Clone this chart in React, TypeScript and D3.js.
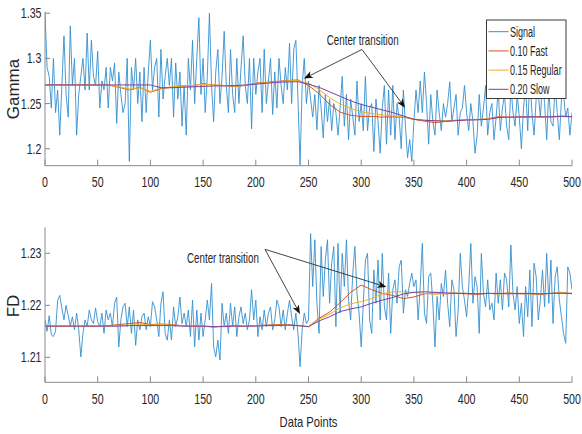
import React from "react";
import * as d3 from "d3";

// Sample positions: raw signal every 2 points, filtered curves every 10 points
const SIGNAL_STEP = 2;
const FILTER_STEP = 10;

const xTicks = [0, 50, 100, 150, 200, 250, 300, 350, 400, 450, 500];
const gammaTicks = [1.2, 1.25, 1.3, 1.35];
const fdTicks = [1.21, 1.22, 1.23];

const seriesNames = ["Signal", "0.10 Fast", "0.15 Regular", "0.20 Slow"];
const seriesColors = ["#3490cf", "#d95319", "#edb120", "#7e3fa8"];

// Gamma signal (points 0..500, every 2nd point)
const gammaSignal = [
  1.35, 1.29, 1.28, 1.245, 1.30, 1.24, 1.265, 1.215, 1.27, 1.325,
  1.26, 1.235, 1.336, 1.27, 1.30, 1.215, 1.26, 1.28, 1.30, 1.265,
  1.328, 1.265, 1.32, 1.28, 1.27, 1.308, 1.245, 1.275, 1.265, 1.29,
  1.245, 1.29, 1.275, 1.295, 1.228, 1.285, 1.26, 1.24, 1.25, 1.30,
  1.186, 1.29, 1.265, 1.30, 1.25, 1.285, 1.23, 1.29, 1.24, 1.285,
  1.32, 1.265, 1.29, 1.30, 1.235, 1.31, 1.255, 1.28, 1.30, 1.27,
  1.30, 1.235, 1.295, 1.255, 1.285, 1.225, 1.27, 1.215, 1.30, 1.265,
  1.32, 1.25, 1.30, 1.345, 1.26, 1.30, 1.24, 1.28, 1.35, 1.27,
  1.23, 1.285, 1.31, 1.25, 1.28, 1.33, 1.27, 1.24, 1.31, 1.26,
  1.24, 1.30, 1.25, 1.29, 1.325, 1.27, 1.25, 1.30, 1.222, 1.30,
  1.26, 1.285, 1.30, 1.24, 1.31, 1.25, 1.275, 1.30, 1.238, 1.285,
  1.245, 1.30, 1.27, 1.25, 1.29, 1.265, 1.317, 1.25, 1.31, 1.32,
  1.255, 1.182, 1.27, 1.30, 1.25, 1.275, 1.255, 1.235, 1.26, 1.221,
  1.27, 1.245, 1.212, 1.26, 1.23, 1.255, 1.22, 1.25, 1.24, 1.215,
  1.245, 1.28, 1.225, 1.26, 1.21, 1.255, 1.235, 1.215, 1.275, 1.23,
  1.25, 1.22, 1.28, 1.22, 1.245, 1.25, 1.197, 1.255, 1.23, 1.195,
  1.245, 1.27, 1.205, 1.265, 1.215, 1.27, 1.21, 1.25, 1.235, 1.20,
  1.265, 1.225, 1.19, 1.21, 1.186, 1.23, 1.265, 1.24, 1.275, 1.24,
  1.285, 1.25, 1.205, 1.26, 1.23, 1.215, 1.265, 1.24, 1.22, 1.25,
  1.235, 1.25, 1.274, 1.23, 1.245, 1.26, 1.215, 1.24, 1.245, 1.27,
  1.24, 1.22, 1.25, 1.23, 1.195, 1.215, 1.26, 1.225, 1.245, 1.27,
  1.215, 1.24, 1.25, 1.21, 1.235, 1.265, 1.22, 1.245, 1.26, 1.225,
  1.21, 1.27, 1.24, 1.225, 1.26, 1.235, 1.20, 1.245, 1.27, 1.22,
  1.28, 1.24, 1.215, 1.255, 1.26, 1.235, 1.275, 1.25, 1.21, 1.265,
  1.23, 1.225, 1.27, 1.24, 1.21, 1.255, 1.26, 1.235, 1.245, 1.215,
  1.24,
];

// Gamma filtered estimates (points 0..500, every 10th point)
const gammaFast = [
  1.2706, 1.2706, 1.2706, 1.2706, 1.2706, 1.2706, 1.2706, 1.268, 1.2652, 1.268,
  1.2625, 1.2665, 1.268, 1.2695, 1.2695, 1.272, 1.2705, 1.27, 1.269, 1.27,
  1.2725, 1.2735, 1.2745, 1.2755, 1.2762, 1.27, 1.261, 1.249, 1.2405, 1.237,
  1.2357, 1.2358, 1.235, 1.2352, 1.235, 1.2325, 1.2305, 1.229, 1.2302, 1.2315,
  1.232, 1.2322, 1.233, 1.2355, 1.2348, 1.235, 1.2345, 1.2355, 1.235, 1.2362,
  1.2355,
];
const gammaRegular = [
  1.2706, 1.2706, 1.2706, 1.2706, 1.2706, 1.2706, 1.2706, 1.2685, 1.266, 1.2675,
  1.2635, 1.267, 1.2685, 1.2695, 1.27, 1.2715, 1.2705, 1.27, 1.2695, 1.27,
  1.272, 1.273, 1.274, 1.2752, 1.2755, 1.2725, 1.2655, 1.2565, 1.2495, 1.2445,
  1.241, 1.239, 1.2375, 1.2365, 1.2355, 1.233, 1.2315, 1.231, 1.231, 1.2315,
  1.232, 1.2325, 1.233, 1.2345, 1.235, 1.2352, 1.235, 1.2348, 1.2352, 1.2355,
  1.2352,
];
const gammaSlow = [
  1.2706, 1.2706, 1.2706, 1.2706, 1.2706, 1.2706, 1.2706, 1.2706, 1.2706, 1.2706,
  1.2706, 1.2675, 1.2675, 1.268, 1.2685, 1.269, 1.2695, 1.2695, 1.27, 1.2705,
  1.2715, 1.2725, 1.2735, 1.274, 1.2742, 1.2715, 1.268, 1.263, 1.258, 1.253,
  1.249, 1.246, 1.243, 1.24, 1.2362, 1.2325, 1.2315, 1.231, 1.2305, 1.231,
  1.2318, 1.232, 1.2325, 1.2345, 1.235, 1.2352, 1.2355, 1.2352, 1.2355, 1.2358,
  1.2355,
];

// FD signal (points 0..500, every 2nd point)
const fdSignal = [
  1.2172, 1.215, 1.218, 1.2143, 1.214, 1.215, 1.221, 1.2219, 1.2195, 1.2172,
  1.22, 1.218, 1.216, 1.2178, 1.2153, 1.2185, 1.2153, 1.2101, 1.2146, 1.2172,
  1.2159, 1.2191, 1.2172, 1.2165, 1.2195, 1.2168, 1.2159, 1.2185, 1.2146, 1.2191,
  1.2172, 1.2185, 1.2159, 1.2204, 1.2216, 1.212, 1.2172, 1.2197, 1.2204, 1.2159,
  1.2197, 1.2146, 1.2191, 1.2123, 1.2172, 1.2153, 1.2178, 1.2185, 1.2153, 1.2178,
  1.2159, 1.2207, 1.2197, 1.2172, 1.214, 1.2204, 1.2226, 1.2146, 1.2133, 1.2172,
  1.2133, 1.2197, 1.2159, 1.2178, 1.2216, 1.2165, 1.2185, 1.2159, 1.2191, 1.214,
  1.221, 1.212, 1.2191, 1.2133, 1.2185, 1.214, 1.2172, 1.221, 1.2172, 1.2242,
  1.212, 1.2101, 1.2133, 1.2095, 1.2204, 1.2159, 1.2185, 1.2146, 1.2204, 1.2159,
  1.2197, 1.214, 1.2178, 1.2197, 1.2165, 1.2185, 1.2153, 1.2172, 1.223, 1.2172,
  1.221, 1.214, 1.2178, 1.2153, 1.2191, 1.2159, 1.2185, 1.2197, 1.2153, 1.2172,
  1.221, 1.2197, 1.2159, 1.2191, 1.2153, 1.2185, 1.221, 1.2178, 1.2153, 1.2185,
  1.2146, 1.2082, 1.2153, 1.2185, 1.2165, 1.2172, 1.2338, 1.2236, 1.2326, 1.2204,
  1.2146, 1.2313, 1.2217, 1.2287, 1.2326, 1.2204, 1.2281, 1.2313, 1.2159, 1.2319,
  1.2185, 1.23, 1.2236, 1.2326, 1.221, 1.2172, 1.2262, 1.2313, 1.2223, 1.2185,
  1.212, 1.2204, 1.2287, 1.23, 1.2172, 1.2146, 1.2268, 1.2204, 1.2287, 1.2172,
  1.23, 1.2197, 1.2172, 1.2262, 1.2146, 1.223, 1.2249, 1.2204, 1.2274, 1.2287,
  1.2185, 1.223, 1.2217, 1.2242, 1.2262, 1.2236, 1.2249, 1.2172, 1.2236, 1.2319,
  1.2185, 1.2165, 1.2255, 1.2262, 1.2204, 1.212, 1.2217, 1.2172, 1.2242, 1.2217,
  1.2268, 1.2204, 1.2159, 1.2249, 1.223, 1.214, 1.2191, 1.23, 1.2236, 1.221,
  1.2178, 1.2236, 1.2319, 1.2204, 1.2255, 1.2236, 1.2146, 1.23, 1.2223, 1.2197,
  1.2249, 1.2191, 1.2204, 1.2172, 1.2262, 1.2204, 1.2249, 1.2191, 1.2262, 1.2249,
  1.2197, 1.2316, 1.2223, 1.2191, 1.2236, 1.2165, 1.2204, 1.214, 1.2236, 1.2178,
  1.2268, 1.2159, 1.2281, 1.2255, 1.2172, 1.221, 1.2268, 1.2197, 1.23, 1.2204,
  1.2287, 1.2165, 1.2255, 1.2274, 1.221, 1.2178, 1.2146, 1.2127, 1.2274, 1.2262,
  1.223,
];

// FD filtered estimates (points 0..500, every 10th point)
const fdFast = [
  1.216, 1.216, 1.216, 1.216, 1.216, 1.216, 1.2161, 1.2163, 1.2165, 1.2167,
  1.2163, 1.2164, 1.2163, 1.2161, 1.216, 1.216, 1.2158, 1.216, 1.2161, 1.216,
  1.2161, 1.2162, 1.2163, 1.2163, 1.2161, 1.2159, 1.2175, 1.2187, 1.2205, 1.2225,
  1.2239, 1.223, 1.2223, 1.2219, 1.2213, 1.2216, 1.2222, 1.2224, 1.2222, 1.2223,
  1.2222, 1.2221, 1.2223, 1.2222, 1.2224, 1.2222, 1.2222, 1.2221, 1.2223, 1.2225,
  1.2222,
];
const fdRegular = [
  1.216, 1.216, 1.216, 1.216, 1.216, 1.216, 1.216, 1.2161, 1.2162, 1.2164,
  1.2162, 1.2163, 1.2162, 1.2161, 1.216, 1.216, 1.2159, 1.216, 1.216, 1.216,
  1.2161, 1.2161, 1.2162, 1.2162, 1.2161, 1.2159, 1.2173, 1.2183, 1.2195, 1.2203,
  1.2207, 1.2213, 1.2222, 1.2226, 1.2226, 1.2225, 1.2223, 1.2221, 1.2223, 1.2224,
  1.2223, 1.2222, 1.2223, 1.2222, 1.2223, 1.2223, 1.2222, 1.2222, 1.2223, 1.2224,
  1.2223,
];
const fdSlow = [
  1.216, 1.216, 1.216, 1.216, 1.216, 1.216, 1.216, 1.216, 1.2161, 1.2161,
  1.2161, 1.2161, 1.2161, 1.216, 1.216, 1.216, 1.2159, 1.2159, 1.216, 1.216,
  1.216, 1.2161, 1.2161, 1.2162, 1.2161, 1.2159, 1.217, 1.2178, 1.2188, 1.2193,
  1.2197, 1.2204, 1.221, 1.2215, 1.2222, 1.2225, 1.2226, 1.2225, 1.2224, 1.2223,
  1.2223, 1.2222, 1.2223, 1.2223, 1.2222, 1.2223, 1.2223, 1.2222, 1.2223, 1.2223,
  1.2223,
];

// Annotation anchors in data units: [x, y]
const gammaNote = { text: [267.3, 1.3148], from: [300.8, 1.3099], to: [[245.7, 1.2777], [341.6, 1.2454]] };
const fdNote = { text: [134.7, 1.22814], from: [208.7, 1.23077], to: [[241.9, 1.21833], [324.0, 1.22352]] };

const FONT = "'Liberation Sans', Arial, Helvetica, sans-serif";
const AXIS = "#8a8a8a";
const INK = "#262626";

const x = d3.scaleLinear().domain([0, 500]).range([45, 572]);
const yGamma = d3.scaleLinear().domain([1.1812, 1.3517]).range([165.7, 11.7]);
const yFd = d3.scaleLinear().domain([1.2052, 1.235]).range([382.3, 227.3]);

type Scale = d3.ScaleLinear<number, number>;

function NarrowText({ x, y, sx, size, anchor = "start", children }: any) {
  return (
    <text
      transform={`translate(${x},${y}) scale(${sx},1)`}
      textAnchor={anchor}
      fontSize={size}
      fill={INK}
      fontFamily={FONT}
    >
      {children}
    </text>
  );
}

function Arrow({ x1, y1, x2, y2 }: { x1: number; y1: number; x2: number; y2: number }) {
  const ang = Math.atan2(y2 - y1, x2 - x1);
  const len = 9;
  const half = 3.6;
  const back = 6.5;
  const cos = Math.cos(ang);
  const sin = Math.sin(ang);
  const bx = x2 - len * cos;
  const by = y2 - len * sin;
  const nx = x2 - back * cos;
  const ny = y2 - back * sin;
  const head = `M${x2},${y2} L${bx - half * sin},${by + half * cos} L${nx},${ny} L${bx + half * sin},${by - half * cos} Z`;
  return (
    <g>
      <line x1={x1} y1={y1} x2={nx} y2={ny} stroke="#303030" strokeWidth={0.9} />
      <path d={head} fill="#111" />
    </g>
  );
}

function Panel({
  id,
  y,
  ticks,
  fmt,
  title,
  titleY,
  signal,
  fast,
  regular,
  slow,
  note,
}: {
  id: string;
  y: Scale;
  ticks: number[];
  fmt: (v: number) => string;
  title: string;
  titleY: number;
  signal: number[];
  fast: number[];
  regular: number[];
  slow: number[];
  note: typeof gammaNote;
}) {
  const [y0, y1] = y.range();
  const [x0, x1] = x.range();
  const sigLine = d3
    .line<number>()
    .x((_, i) => x(i * SIGNAL_STEP))
    .y((v) => y(v));
  const filtLine = d3
    .line<number>()
    .x((_, i) => x(i * FILTER_STEP))
    .y((v) => y(v));
  const filters = [fast, regular, slow];

  return (
    <g>
      <defs>
        <clipPath id={`clip-${id}`}>
          <rect x={x0} y={y1} width={x1 - x0} height={y0 - y1} />
        </clipPath>
      </defs>
      <g clipPath={`url(#clip-${id})`}>
        <path d={sigLine(signal) || ""} fill="none" stroke={seriesColors[0]} strokeWidth={0.9} strokeLinejoin="round" />
        {filters.map((f, k) => (
          <path
            key={k}
            d={filtLine(f) || ""}
            fill="none"
            stroke={seriesColors[k + 1]}
            strokeWidth={1}
            strokeLinejoin="round"
          />
        ))}
      </g>

      {/* axes */}
      <line x1={x0} y1={y0} x2={x1} y2={y0} stroke={AXIS} strokeWidth={1} />
      <line x1={x0} y1={y0} x2={x0} y2={y1} stroke={AXIS} strokeWidth={1} />
      {xTicks.map((t) => (
        <g key={`x${t}`}>
          <line x1={x(t)} x2={x(t)} y1={y0} y2={y0 - 6} stroke={AXIS} strokeWidth={1} />
          <NarrowText x={x(t)} y={y0 + 21.5} sx={0.76} size={14} anchor="middle">
            {t}
          </NarrowText>
        </g>
      ))}
      {ticks.map((t) => (
        <g key={`y${t}`}>
          <line x1={x0} x2={x0 + 5} y1={y(t)} y2={y(t)} stroke={AXIS} strokeWidth={1} />
          <NarrowText x={x0 - 3.5} y={y(t) + 5} sx={0.76} size={14} anchor="end">
            {fmt(t)}
          </NarrowText>
        </g>
      ))}
      <text
        transform={`translate(19,${titleY}) rotate(-90)`}
        textAnchor="middle"
        fontSize={17}
        fill={INK}
        fontFamily={FONT}
      >
        {title}
      </text>

      {/* annotation */}
      <NarrowText x={x(note.text[0])} y={y(note.text[1])} sx={0.7} size={14}>
        Center transition
      </NarrowText>
      {note.to.map((p, i) => (
        <Arrow key={i} x1={x(note.from[0])} y1={y(note.from[1])} x2={x(p[0])} y2={y(p[1])} />
      ))}
    </g>
  );
}

function Legend() {
  const left = 486.5;
  const top = 20;
  const w = 79.5;
  const h = 78.5;
  const row = 19.2;
  return (
    <g>
      <rect x={left} y={top} width={w} height={h} fill="#fff" stroke="#3a3a3a" strokeWidth={1} />
      {seriesNames.map((name, i) => {
        const cy = top + 11.7 + i * row;
        return (
          <g key={name}>
            <line x1={left + 2} x2={left + 22} y1={cy} y2={cy} stroke={seriesColors[i]} strokeWidth={1} />
            <NarrowText x={left + 23.5} y={cy + 5} sx={0.645} size={14}>
              {name}
            </NarrowText>
          </g>
        );
      })}
    </g>
  );
}

export default function App() {
  const f2 = d3.format(".2f");
  const gFmt = (v: number) => {
    const s = f2(v);
    return s.endsWith("0") ? s.slice(0, -1) : s;
  };
  return (
    <svg
      width={582}
      height={434}
      viewBox="0 0 582 434"
      style={{ position: "absolute", left: 0, top: 0, background: "#fff" }}
      fontFamily={FONT}
    >
      <rect width={582} height={434} fill="#fff" />
      <Panel
        id="gamma"
        y={yGamma}
        ticks={gammaTicks}
        fmt={gFmt}
        title="Gamma"
        titleY={89}
        signal={gammaSignal}
        fast={gammaFast}
        regular={gammaRegular}
        slow={gammaSlow}
        note={gammaNote}
      />
      <Panel
        id="fd"
        y={yFd}
        ticks={fdTicks}
        fmt={f2}
        title="FD"
        titleY={306}
        signal={fdSignal}
        fast={fdFast}
        regular={fdRegular}
        slow={fdSlow}
        note={fdNote}
      />
      <Legend />
      <NarrowText x={(x.range()[0] + x.range()[1]) / 2} y={426.5} sx={0.8} size={14} anchor="middle">
        Data Points
      </NarrowText>
    </svg>
  );
}
